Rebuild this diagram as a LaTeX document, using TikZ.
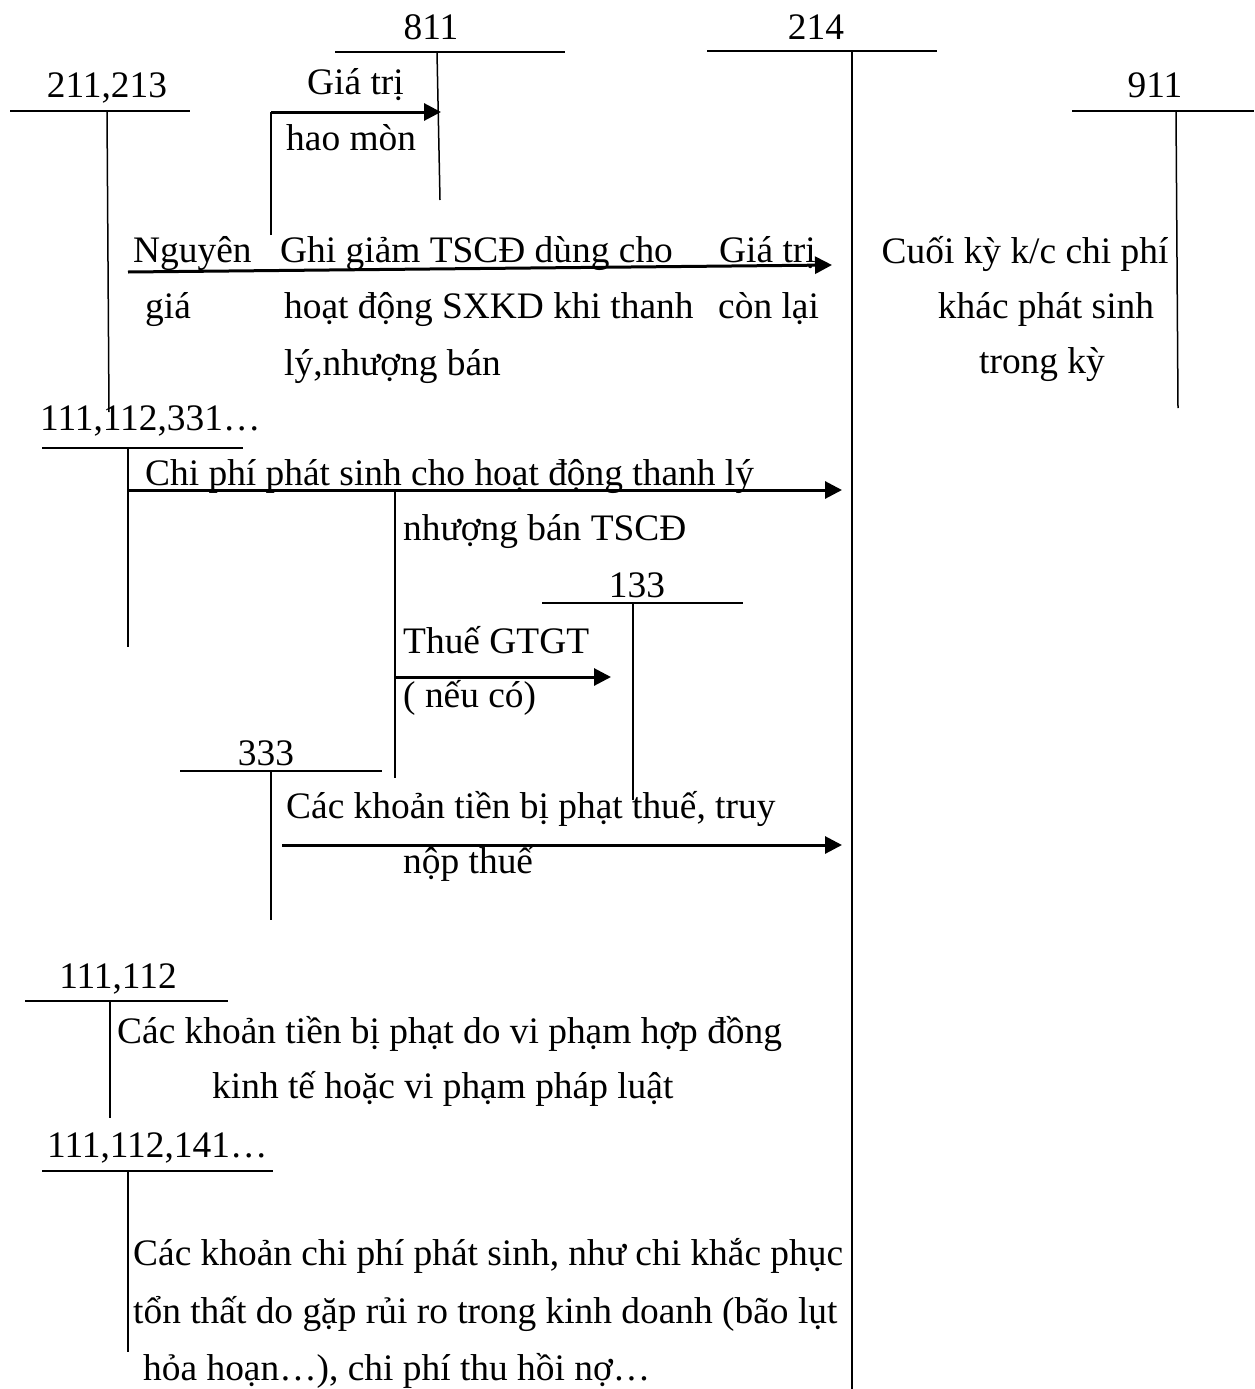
\documentclass[tikz,border=0pt]{standalone}
\usepackage{fontspec}
\setmainfont{Liberation Serif}
\usetikzlibrary{arrows.meta}
\begin{document}
\begin{tikzpicture}[x=1pt,y=-1pt,
  txt/.style={inner sep=0pt,anchor=base west,font=\fontsize{37.4}{44}\selectfont},
  acct/.style={inner sep=0pt,anchor=base,font=\fontsize{37.4}{44}\selectfont},
  tbar/.style={line width=1.9pt},
  tleg/.style={line width=1.5pt},
  flow/.style={line width=3pt,-{Triangle[length=17pt,width=17pt]}},
  plain/.style={line width=1.5pt}]
\useasboundingbox (0,0) rectangle (1254,1389);

% ---- T-account 811
\node[acct] (n811) at (431,40) {811};
\coordinate (a811l) at (335,52); \coordinate (a811r) at (565,52);
\coordinate (a811t) at (437,52); \coordinate (a811b) at (440,200);
\draw[tbar] (a811l) -- (a811r);
\draw[tleg] (a811t) -- (a811b);

% ---- T-account 214
\node[acct] (n214) at (816,40) {214};
\coordinate (a214l) at (707,51); \coordinate (a214r) at (937,51);
\coordinate (a214t) at (852,51); \coordinate (a214b) at (852,1389);
\draw[tbar] (a214l) -- (a214r);
\draw[tleg] (a214t) -- (a214b);

% ---- T-account 211,213
\node[acct] (n211) at (107,97) {211,213};
\coordinate (a211l) at (10,111); \coordinate (a211r) at (190,111);
\coordinate (a211t) at (107,111); \coordinate (a211b) at (109,412);
\draw[tbar] (a211l) -- (a211r);
\draw[tleg] (a211t) -- (a211b);

% ---- T-account 911
\node[acct] (n911) at (1155,97) {911};
\coordinate (a911l) at (1072,111); \coordinate (a911r) at (1254,111);
\coordinate (a911t) at (1176,111); \coordinate (a911b) at (1178,408);
\draw[tbar] (a911l) -- (a911r);
\draw[tleg] (a911t) -- (a911b);

% ---- accumulated depreciation to 811
\node[txt] (gtri1) at (307,95) {Giá trị};
\node[txt] (hmon) at (286,150) {hao mòn};
\coordinate (hm0) at (271,235); \coordinate (hm1) at (271,112);
\coordinate (hm2) at (441,112);
\draw[line width=1.5pt] (hm0) -- (hm1);
\draw[flow] (hm1) -- (hm2);

% ---- write-off of fixed asset
\node[txt] (ng1) at (133,262) {Nguyên};
\node[txt] (ng2) at (145,318) {giá};
\node[txt] (gg1) at (280,262) {Ghi giảm TSCĐ dùng cho};
\node[txt] (gg2) at (284,318) {hoạt động SXKD khi thanh};
\node[txt] (gg3) at (284,375) {lý,nhượng bán};
\node[txt] (cl1) at (719,262) {Giá trị};
\node[txt] (cl2) at (718,318) {còn lại};
\coordinate (wo0) at (128,272); \coordinate (wo1) at (832,265);
\draw[flow] (wo0) -- (wo1);

% ---- closing entry to 911
\node[acct] (ck1) at (1025,263) {Cuối kỳ k/c chi phí};
\node[acct] (ck2) at (1046,318) {khác phát sinh};
\node[acct] (ck3) at (1042,373) {trong kỳ};

% ---- T-account 111,112,331...
\node[txt] (n111a) at (40,430) {111,112,331…};
\coordinate (b111l) at (42,448); \coordinate (b111r) at (243,448);
\coordinate (b111t) at (128,448); \coordinate (b111b) at (128,647);
\draw[tbar] (b111l) -- (b111r);
\draw[tleg] (b111t) -- (b111b);
\node[txt] (cp1) at (145,485) {Chi phí phát sinh cho hoạt động thanh lý};
\node[txt] (cp2) at (403,540) {nhượng bán TSCĐ};
\coordinate (cp0) at (128,490); \coordinate (cpE) at (842,490);
\draw[flow] (cp0) -- (cpE);
\coordinate (vt0) at (395,490); \coordinate (vt1) at (395,778);
\draw[plain] (vt0) -- (vt1);

% ---- T-account 133
\node[acct] (n133) at (637,597) {133};
\coordinate (c133l) at (542,603); \coordinate (c133r) at (743,603);
\coordinate (c133t) at (633,603); \coordinate (c133b) at (633,800);
\draw[tbar] (c133l) -- (c133r);
\draw[tleg] (c133t) -- (c133b);
\node[txt] (vat1) at (403,653) {Thuế GTGT};
\node[txt] (vat2) at (403,707) {( nếu có)};
\coordinate (vat0) at (395,677); \coordinate (vatE) at (611,677);
\draw[flow] (vat0) -- (vatE);

% ---- T-account 333
\node[acct] (n333) at (266,765) {333};
\coordinate (d333l) at (180,771); \coordinate (d333r) at (382,771);
\coordinate (d333t) at (271,771); \coordinate (d333b) at (271,920);
\draw[tbar] (d333l) -- (d333r);
\draw[tleg] (d333t) -- (d333b);
\node[txt] (pt1) at (286,818) {Các khoản tiền bị phạt thuế, truy};
\node[txt] (pt2) at (403,873) {nộp thuế};
\coordinate (pt0) at (282,845); \coordinate (ptE) at (842,845);
\draw[flow] (pt0) -- (ptE);

% ---- T-account 111,112
\node[acct] (n111b) at (118,988) {111,112};
\coordinate (e111l) at (25,1001); \coordinate (e111r) at (228,1001);
\coordinate (e111t) at (110,1001); \coordinate (e111b) at (110,1118);
\draw[tbar] (e111l) -- (e111r);
\draw[tleg] (e111t) -- (e111b);
\node[txt] (hd1) at (117,1043) {Các khoản tiền bị phạt do vi phạm hợp đồng};
\node[txt] (hd2) at (212,1098) {kinh tế hoặc vi phạm pháp luật};

% ---- T-account 111,112,141...
\node[txt] (n111c) at (47,1157) {111,112,141…};
\coordinate (f111l) at (42,1171); \coordinate (f111r) at (273,1171);
\coordinate (f111t) at (128,1171); \coordinate (f111b) at (128,1352);
\draw[tbar] (f111l) -- (f111r);
\draw[tleg] (f111t) -- (f111b);
\node[txt] (kp1) at (133,1265) {Các khoản chi phí phát sinh, như chi khắc phục};
\node[txt] (kp2) at (133,1323) {tổn thất do gặp rủi ro trong kinh doanh (bão lụt};
\node[txt] (kp3) at (143,1380) {hỏa hoạn…), chi phí thu hồi nợ…};
\end{tikzpicture}
\end{document}
